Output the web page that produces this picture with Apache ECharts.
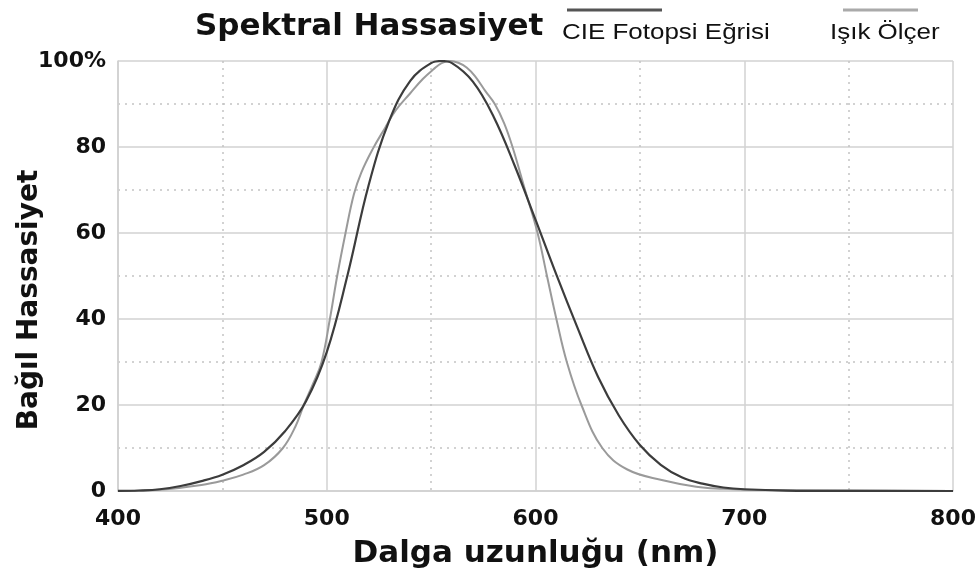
<!DOCTYPE html>
<html>
<head>
    <meta charset="utf-8">
    <title>Spektral Hassasiyet</title>
    <script src="https://cdn.jsdelivr.net/npm/echarts@6.0.0/dist/echarts.min.js"></script>
    <style>
        html, body { margin: 0; padding: 0; background: #fff; }
        #main { width: 976px; height: 574px; }
    </style>
</head>
<body>
<div id="main"></div>
<script>
    // CIE fotopsi egrisi (koyu)
    var cieNm  = [400, 410, 420, 430, 440, 450, 460, 470, 480, 490, 500, 510, 520, 530, 540, 550, 555, 560, 570, 580, 590, 600, 610, 620, 630, 640, 650, 660, 670, 680, 690, 700, 720, 750, 800];
    var cieVal = [0.04, 0.12, 0.4, 1.16, 2.3, 3.8, 6.0, 9.1, 13.9, 20.8, 32.3, 50.3, 71.0, 86.2, 95.4, 99.5, 100, 99.5, 95.2, 87.0, 75.7, 63.1, 50.3, 38.1, 26.5, 17.5, 10.7, 6.1, 3.2, 1.7, 0.82, 0.41, 0.1, 0.02, 0];

    // Isik olcer (acik)
    var meterNm  = [400, 420, 440, 450, 460, 470, 479, 485, 489, 493.5, 497.5, 501.5, 505, 509, 513, 516.5, 522, 528, 533, 540, 546, 551, 555, 559, 563, 567, 571, 576, 580.5, 585, 589, 595, 601, 605.5, 610, 615, 622, 632, 644, 661, 677, 690, 700, 750, 800];
    var meterVal = [0, 0.3, 1.4, 2.4, 3.8, 6, 10, 15, 20, 25, 30, 40, 50, 60, 69, 74, 79.5, 84.5, 88.5, 92.5, 95.8, 98, 99.5, 100, 99.6, 98.5, 96.5, 93, 90, 85.5, 80, 70, 60, 50, 40, 30, 20, 10, 5, 2.5, 1, 0.5, 0.3, 0.1, 0];

    var xTicks = [400, 500, 600, 700, 800];
    var yTicks = [0, 20, 40, 60, 80, 100];

    function pairs(xs, ys) {
        var out = [];
        for (var i = 0; i < xs.length; i++) {
            out.push([xs[i], ys[i]]);
        }
        return out;
    }

    var boldFont = 'DejaVu Sans';
    var chartDom = document.getElementById('main');
    var myChart = echarts.init(chartDom);
    var option;
    option = {
        backgroundColor: '#fff',
        animation: false,
        title: {
            text: 'Spektral Hassasiyet',
            left: 195,
            top: 11,
            padding: 0,
            textStyle: {
                fontFamily: boldFont,
                fontWeight: 'bold',
                fontSize: 31,
                color: '#111'
            }
        },
        grid: {
            left: 118,
            right: 23,
            top: 61,
            bottom: 83,
            containLabel: false,
            outerBoundsMode: 'none'
        },
        xAxis: {
            type: 'value',
            min: xTicks[0],
            max: xTicks[xTicks.length - 1],
            interval: 100,
            name: 'Dalga uzunluğu (nm)',
            nameLocation: 'middle',
            nameGap: 47,
            nameMoveOverlap: false,
            nameTextStyle: {
                fontFamily: boldFont,
                fontWeight: 'bold',
                fontSize: 31,
                color: '#111'
            },
            axisLine: { lineStyle: { color: '#cfcfcf', width: 1.5 } },
            axisTick: { show: false },
            axisLabel: {
                fontFamily: boldFont,
                fontWeight: 'bold',
                fontSize: 22,
                color: '#111',
                margin: 17
            },
            splitLine: { show: true, lineStyle: { color: '#d2d2d2', width: 1.5 } },
            minorTick: { show: false, splitNumber: 2 },
            minorSplitLine: { show: true, lineStyle: { color: '#c4c4c4', type: [2, 5], width: 1.5 } }
        },
        yAxis: {
            type: 'value',
            min: yTicks[0],
            max: yTicks[yTicks.length - 1],
            interval: 20,
            name: 'Bağıl Hassasiyet',
            nameLocation: 'middle',
            nameRotate: 90,
            nameGap: 74,
            nameMoveOverlap: false,
            nameTextStyle: {
                fontFamily: boldFont,
                fontWeight: 'bold',
                fontSize: 28,
                color: '#111',
                padding: [0, 48, 0, 0]
            },
            axisLine: { show: true, lineStyle: { color: '#cfcfcf', width: 1.5 } },
            axisTick: { show: false },
            axisLabel: {
                fontFamily: boldFont,
                fontWeight: 'bold',
                fontSize: 22,
                color: '#111',
                margin: 12,
                formatter: function (v) {
                    return v === 100 ? '100%' : String(v);
                }
            },
            splitLine: { show: true, lineStyle: { color: '#d2d2d2', width: 1.5 } },
            minorTick: { show: false, splitNumber: 2 },
            minorSplitLine: { show: true, lineStyle: { color: '#c4c4c4', type: [2, 5], width: 1.5 } }
        },
        graphic: [
            { type: 'line', shape: { x1: 567, y1: 10, x2: 662, y2: 10 }, style: { stroke: '#555', lineWidth: 3 } },
            { type: 'text', x: 562, y: 33, scaleX: 1.18, style: { text: 'CIE Fotopsi Eğrisi', x: 0, y: 0, fontFamily: 'Liberation Sans', fontSize: 22, fill: '#111', verticalAlign: 'middle' } },
            { type: 'line', shape: { x1: 843, y1: 10, x2: 918, y2: 10 }, style: { stroke: '#aaa', lineWidth: 3 } },
            { type: 'text', x: 830, y: 33, scaleX: 1.18, style: { text: 'Işık Ölçer', x: 0, y: 0, fontFamily: 'Liberation Sans', fontSize: 22, fill: '#111', verticalAlign: 'middle' } }
        ],
        series: [
            {
                name: 'CIE Fotopsi Eğrisi',
                type: 'line',
                smooth: 0.4,
                symbol: 'none',
                lineStyle: { color: '#3c3c3c', width: 2.2 },
                data: pairs(cieNm, cieVal),
                z: 3
            },
            {
                name: 'Işık Ölçer',
                type: 'line',
                smooth: 0.4,
                symbol: 'none',
                lineStyle: { color: '#9a9a9a', width: 2 },
                data: pairs(meterNm, meterVal),
                z: 2
            }
        ]
    };
    option && myChart.setOption(option);
</script>
</body>
</html>
